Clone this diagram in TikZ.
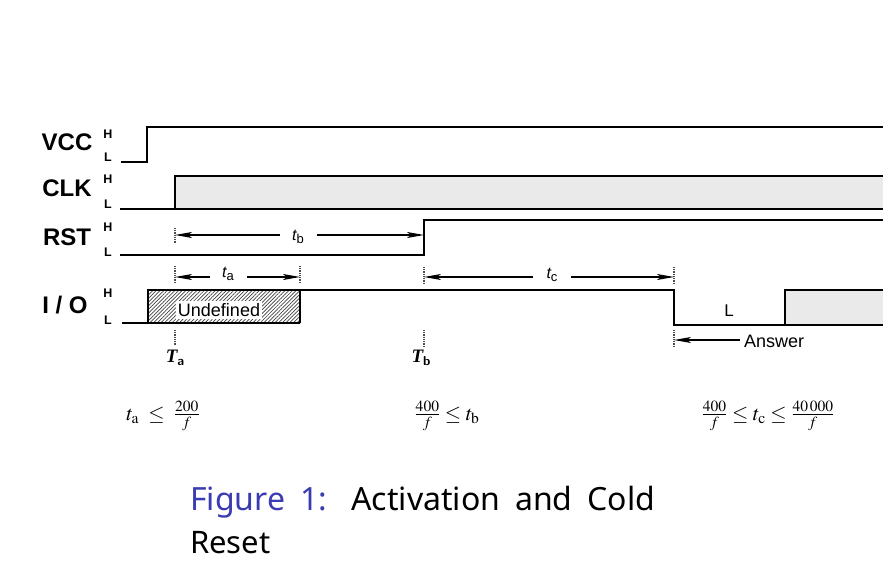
\documentclass[tikz,border=0pt]{standalone}
\usepackage{mathptmx}
\usepackage{fontspec}
\setmainfont{Liberation Sans}
\newfontfamily\capfont{Noto Sans}
\newfontfamily\serfont{Liberation Serif}
\usetikzlibrary{arrows.meta,patterns.meta}
\definecolor{capblue}{RGB}{58,58,178}
\definecolor{dotfill}{RGB}{234,234,234}
\tikzset{
  sig/.style={line width=1.7pt, line join=miter},
  siglbl/.style={font=\fontsize{24}{24}\selectfont\bfseries, inner sep=0pt},
  hl/.style={font=\fontsize{12.5}{12.5}\selectfont\bfseries, inner sep=0pt},
  tlbl/.style={font=\fontsize{16}{16}\selectfont, inner sep=0pt},
  onearr/.style={line width=1.2pt, -{Stealth[length=17pt,width=6pt,inset=4pt]}},
  marker/.style={line width=1.7pt, gray!60!black, dash pattern=on 1pt off 0.8pt},
  frm/.style={font=\fontsize{21}{21}\selectfont, inner sep=0pt},
}
\begin{document}
\begin{tikzpicture}[x=1pt,y=-1pt]
\useasboundingbox (0,0) rectangle (893,583);
% ---------- signal names ----------
\node[siglbl] (vcc) at (67,142) {VCC};
\node[siglbl] (clk) at (67,188) {CLK};
\node[siglbl] (rst) at (67,237) {RST};
\node[siglbl] (io)  at (65,305) {I / O};
\node[hl] (vccH) at (108,134) {H};
\node[hl] (vccL) at (108,157) {L};
\node[hl] (clkH) at (108,179) {H};
\node[hl] (clkL) at (108,204) {L};
\node[hl] (rstH) at (108,227) {H};
\node[hl] (rstL) at (108,252) {L};
\node[hl] (ioH)  at (108,293) {H};
\node[hl] (ioL)  at (108,320) {L};
% ---------- VCC ----------
\draw[sig] (121,162) -- (147,162) -- (147,127) -- (883,127);
% ---------- CLK ----------
\fill[dotfill] (175,176) rectangle (883,209);
\draw[sig] (120,209) -- (883,209);
\draw[sig] (175,209) -- (175,176) -- (883,176);
% ---------- RST ----------
\draw[sig] (120,255) -- (424,255) -- (424,220) -- (883,220);
% ---------- I/O ----------
\fill[pattern={Lines[angle=45,distance=2.6pt,line width=0.7pt]}, pattern color=black!75] (148,290) rectangle (300,323);
\fill[dotfill] (785,290) rectangle (883,325);
\node[fill=white, inner sep=2pt, font=\fontsize{18}{18}\selectfont] (undef) at (219,310) {Undefined};
\draw[sig] (122,323) -- (300,323);
\draw[sig] (148,323) -- (148,290) -- (674,290) -- (674,325) -- (883,325);
\draw[sig] (300,323) -- (300,290);
\draw[sig] (785,325) -- (785,290) -- (883,290);
\node[font=\fontsize{17}{17}\selectfont, inner sep=0pt] (lowL) at (729,311) {L};
% ---------- markers ----------
\draw[marker] (175,228) -- (175,244);
\draw[marker] (175,266) -- (175,283);
\draw[marker] (300,266) -- (300,283);
\draw[marker] (424,267) -- (424,284);
\draw[marker] (674,267) -- (674,284);
\draw[marker] (175,330) -- (175,346);
\draw[marker] (424,330) -- (424,347);
\draw[marker] (674,330) -- (674,347);
% ---------- time labels and arrows ----------
\node[tlbl] (tb) at (298,237) {\itshape t\normalfont\raisebox{-0.35ex}{\fontsize{13}{13}\selectfont b}};
\coordinate (tbL) at (175,235); \coordinate (tbR) at (424,235);
\coordinate (tbT1) at (280,235); \coordinate (tbT2) at (317,235);
\draw[onearr] (tbT1) -- (tbL);
\draw[onearr] (tbT2) -- (tbR);
\node[tlbl] (ta) at (228,274) {\itshape t\normalfont\raisebox{-0.35ex}{\fontsize{13}{13}\selectfont a}};
\coordinate (taL) at (175,277); \coordinate (taR) at (300,277);
\coordinate (taT1) at (210,277); \coordinate (taT2) at (247,277);
\draw[onearr] (taT1) -- (taL);
\draw[onearr] (taT2) -- (taR);
\node[tlbl] (tc) at (552,275) {\itshape t\normalfont\raisebox{-0.35ex}{\fontsize{13}{13}\selectfont c}};
\coordinate (tcL) at (424,277); \coordinate (tcR) at (674,277);
\coordinate (tcT1) at (533,277); \coordinate (tcT2) at (571,277);
\draw[onearr] (tcT1) -- (tcL);
\draw[onearr] (tcT2) -- (tcR);
\node[font=\fontsize{18}{18}\selectfont, inner sep=0pt, anchor=west] (ans) at (744,341) {Answer};
\coordinate (ansL) at (674,340); \coordinate (ansT) at (740,340);
\draw[onearr] (ansT) -- (ansL);
% ---------- T labels ----------
\node[inner sep=0pt, font=\fontsize{19}{19}\selectfont] (Ta) at (175,358) {\serfont\bfseries\itshape T\normalfont\sffamily\fontsize{13}{13}\selectfont\bfseries\raisebox{-0.4ex}{a}};
\node[inner sep=0pt, font=\fontsize{19}{19}\selectfont] (Tb) at (421,358) {\serfont\bfseries\itshape T\normalfont\sffamily\fontsize{13}{13}\selectfont\bfseries\raisebox{-0.4ex}{b}};
% ---------- formulas ----------
\node[frm] (fa) at (163,416) {$t_{\mathrm{a}} \;\le\; \frac{200}{f}$};
\node[frm] (fb) at (447,416) {$\frac{400}{f} \le t_{\mathrm{b}}$};
\node[frm] (fc) at (768,416) {$\frac{400}{f} \le t_{\mathrm{c}} \le \frac{40\,000}{f}$};
% ---------- caption ----------
\node[anchor=base west, inner sep=0pt, font=\capfont\fontsize{32}{32}\selectfont] (cap1) at (190,510) {\makebox[465pt][s]{\textcolor{capblue}{Figure 1:} Activation and Cold}};
\node[anchor=base west, inner sep=0pt, font=\capfont\fontsize{31}{31}\selectfont] (cap2) at (190,553) {Reset};
\end{tikzpicture}
\end{document}
